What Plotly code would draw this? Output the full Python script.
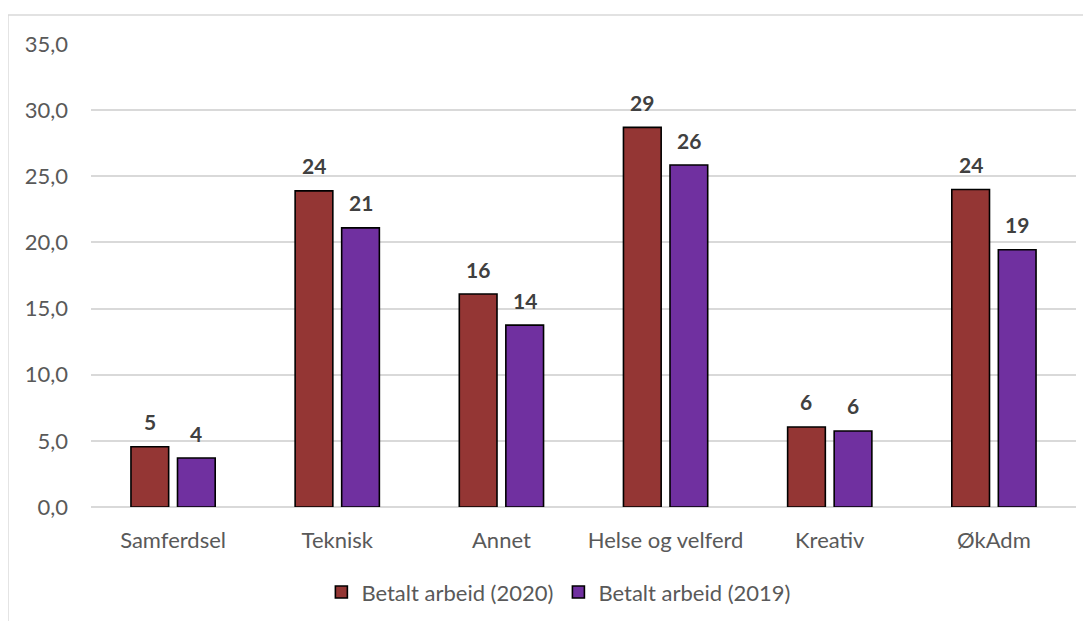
import plotly.graph_objects as go

# data
categories = ["Samferdsel", "Teknisk", "Annet", "Helse og velferd", "Kreativ", "ØkAdm"]
arbeid_2020 = [4.55, 23.9, 16.1, 28.7, 6.05, 24.0]
arbeid_2019 = [3.7, 21.1, 13.75, 25.85, 5.75, 19.45]
y_ticks = [0, 5, 10, 15, 20, 25, 30, 35]

FONT = "Lato"
BARGAP = 0.433
GROUPGAP = 0.19

fig = go.Figure()
fig.add_trace(go.Bar(
    name="Betalt arbeid (2020)", x=categories, y=arbeid_2020,
    marker=dict(color="#943634", line=dict(color="#000000", width=1.6)),
))
fig.add_trace(go.Bar(
    name="Betalt arbeid (2019)", x=categories, y=arbeid_2019,
    marker=dict(color="#7030A0", line=dict(color="#000000", width=1.6)),
))

# data labels above bars (offset by half a bar slot from category centre)
slot = (1 - BARGAP) / 2
for k, series in enumerate([arbeid_2020, arbeid_2019]):
    off = (k - 0.5) * slot
    for i, v in enumerate(series):
        fig.add_annotation(
            x=i + off, y=v, xref="x", yref="y",
            text="<b>%d</b>" % int(v + 0.5), showarrow=False,
            yanchor="middle", yshift=25,
            font=dict(family=FONT, size=21, color="#404040"),
        )

# outer chart frame
fig.add_shape(type="rect", xref="paper", yref="paper",
              x0=-0.0843, x1=1.03, y0=-0.3, y1=1.0626,
              line=dict(color="#d9d9d9", width=1.5), layer="below")

fig.update_layout(
    width=1083, height=613,
    margin=dict(l=83, r=15, t=36, b=114, autoexpand=False),
    paper_bgcolor="white", plot_bgcolor="white",
    barmode="group", bargap=BARGAP, bargroupgap=GROUPGAP,
    font=dict(family=FONT, size=22, color="#595959"),
    xaxis=dict(showgrid=False, showline=False, ticks="", automargin=False,
               ticklabelstandoff=18,
               tickfont=dict(size=22, color="#595959")),
    yaxis=dict(range=[0, 35], tickvals=y_ticks, automargin=False,
               ticktext=[("%.1f" % t).replace(".", ",") for t in y_ticks],
               gridcolor="#d9d9d9", gridwidth=1.5,
               zeroline=True, zerolinecolor="#d9d9d9", zerolinewidth=1.5,
               ticks="", ticklabelstandoff=22,
               tickfont=dict(size=22, color="#595959")),
    legend=dict(orientation="h", x=0.475, xanchor="center", y=-0.184, yanchor="middle",
                font=dict(size=22, color="#595959"), itemwidth=30,
                traceorder="normal"),
    showlegend=True,
)

fig.write_html("out.html")
